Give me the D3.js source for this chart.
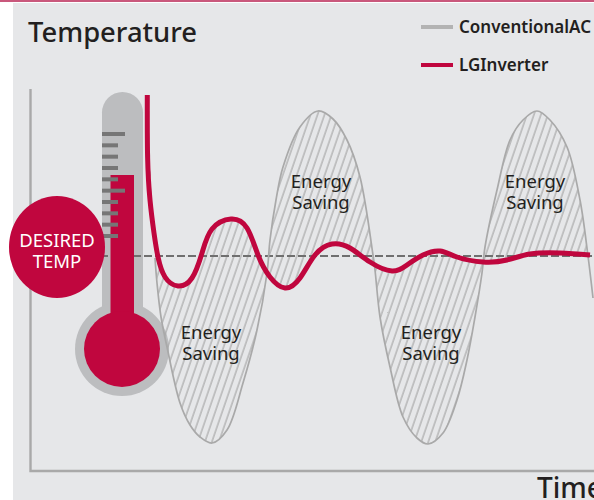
<!DOCTYPE html>
<html>
<head>
<meta charset="utf-8">
<script src="https://cdn.jsdelivr.net/npm/d3@7"></script>
<style>
  html, body { margin: 0; padding: 0; background: #fff; overflow: hidden; }
  text { font-family: "Noto Sans", sans-serif; fill: #231f20; }
</style>
</head>
<body>
<svg width="594" height="500"></svg>
<script>
// DATA - time on x, offset from the desired temperature on y
const conventionalTime = [125,127,131,137,150,160,170,182,197,213,227,237,240,246,253,270,288,303,317,330,343,345,350,360,373,387,398,413,427,437,445,452,455,467,480,493,507,520,537,550,558,563];
const conventionalTemp = [-2,-27,-61,-91,-147,-169,-181,-187,-174,-127,-74,-17,16,56,89,129,145,137,116,79,1,-14,-61,-111,-161,-182,-188,-177,-144,-104,-61,-17,9,66,116,136,145,136,109,56,0,-42];
const inverterTime = [117.3,117.6,120,124,128,135,148,162,172,182,201,217,228,240,255,270,285,302,320,340,362,377,393,410,427,453,477,500,530,560];
const inverterTemp = [161,99,56,23,-1,-21,-30,-22,3,27,37,28,1,-21,-32,-22,1,12,8,-6,-15,-9,1,5,-1,-6,-4,2,3,1];
const legendNames = ['ConventionalAC', 'LGInverter'];
const savingTimes = [181,291,401,505];
const savingLevels = [-83,68,-83,68];

const red = '#c0063e';
const grey = '#a9a9a9';
const thermoGrey = '#bcbdbf';

const svg = d3.select('svg');

const xScale = d3.scaleLinear().domain([0,560]).range([30,590]);
const yScale = d3.scaleLinear().domain([-200,200]).range([456,56]);

// background
svg.append('rect').attr('width',594).attr('height',500).attr('fill','#fff');
svg.append('rect').attr('x',13).attr('y',3).attr('width',581).attr('height',497).attr('fill','#e6e7e9');
svg.append('rect').attr('width',594).attr('height',2).attr('fill','#c9587c');

// hatch pattern
const pat = svg.append('defs').append('pattern')
    .attr('id','hatch')
    .attr('patternUnits','userSpaceOnUse')
    .attr('width',6.6).attr('height',6.6)
    .attr('patternTransform','rotate(19)');
pat.append('line').attr('x1',1).attr('x2',1).attr('y1',0).attr('y2',6.6)
    .attr('stroke','#a2a2a2').attr('stroke-width',1.1);

const conv = conventionalTime.map((t,i)=>[t,conventionalTemp[i]]);
const inv = inverterTime.map((t,i)=>[t,inverterTemp[i]]);

const convLine = d3.line()
    .x(d=>xScale(d[0]))
    .y(d=>yScale(d[1]))
    .curve(d3.curveCatmullRom.alpha(0.5));

const invLine = d3.line()
    .x(d=>xScale(d[0]))
    .y(d=>yScale(d[1]))
    .curve(d3.curveNatural);

// axes
const axisPath = d3.path();
axisPath.moveTo(30.5,89);
axisPath.lineTo(30.5,471);
axisPath.lineTo(594,471);
svg.append('path').attr('d',axisPath.toString())
    .attr('fill','none').attr('stroke',grey).attr('stroke-width',2.4);

// thermometer tube
const tube = svg.append('g');
tube.append('rect').attr('x',102).attr('y',92).attr('width',41).attr('height',240)
    .attr('rx',20.5).attr('fill',thermoGrey);
tube.append('rect').attr('x',102).attr('y',120).attr('width',41).attr('height',210).attr('fill',thermoGrey);
tube.append('circle').attr('cx',122).attr('cy',349).attr('r',47).attr('fill',thermoGrey);

// hatched area between the two curves
const hatchConv = conv.slice(0,-1);
const invBack = inv.slice().reverse();
svg.append('path')
    .attr('d',convLine(hatchConv)+'L'+invLine(invBack).slice(1)+'Z')
    .attr('fill','url(#hatch)');

// desired temp line
svg.append('line')
    .attr('x1',100).attr('x2',594)
    .attr('y1',yScale(0)).attr('y2',yScale(0))
    .attr('stroke','#6f6f6f').attr('stroke-width',1.8).attr('stroke-dasharray','8 3');

// column and bulb
svg.append('rect').attr('x',110.5).attr('y',175).attr('width',23.5).attr('height',170).attr('fill',red);
svg.append('circle').attr('cx',122).attr('cy',349).attr('r',38).attr('fill',red);

// ticks, every fifth is longer
const tickY = d3.scaleLinear().domain([0,9]).range([134,236]);
svg.selectAll('.tick').data(d3.range(10)).enter().append('rect')
    .attr('class','tick')
    .attr('x',102)
    .attr('y',d=>tickY(d)-2)
    .attr('width',d=>d%5==0 ? 23 : 16)
    .attr('height',4)
    .attr('fill','#767676');

// curves
svg.append('path').attr('d',convLine(conv))
    .attr('fill','none').attr('stroke',grey).attr('stroke-width',1.7);
svg.append('path').attr('d',invLine(inv))
    .attr('fill','none').attr('stroke',red).attr('stroke-width',5);

// desired temp badge
svg.append('ellipse').attr('cx',57).attr('cy',247).attr('rx',48).attr('ry',51).attr('fill',red);
svg.selectAll('.badge').data(['DESIRED','TEMP']).enter().append('text')
    .attr('class','badge')
    .attr('x',57)
    .attr('y',(d,i)=>247+i*21)
    .attr('text-anchor','middle')
    .attr('font-size',18.5)
    .style('fill','#fff')
    .text(d=>d);

// energy saving labels
savingTimes.forEach((t,i)=>{
    const lab = svg.append('text')
        .attr('text-anchor','middle')
        .attr('font-size',18.5);
    lab.append('tspan').attr('x',xScale(t)).attr('y',yScale(savingLevels[i])).text('Energy');
    lab.append('tspan').attr('x',xScale(t)).attr('y',yScale(savingLevels[i])+20.5).text('Saving');
});

// titles
svg.append('text').attr('x',28).attr('y',42).attr('font-size',27.4).attr('font-weight',500).text('Temperature');
svg.append('text').attr('x',537).attr('y',498).attr('font-size',28).attr('font-weight',500).text('Time');

// legend
legendNames.forEach((name,i)=>{
    const y = 27 + i*38;
    svg.append('line').attr('x1',421).attr('x2',453).attr('y1',y).attr('y2',y)
        .attr('stroke',i==0 ? '#b3b3b3' : red).attr('stroke-width',4);
    svg.append('text').attr('x',459).attr('y',y+5.5).attr('font-size',17)
        .attr('font-weight',600).text(name);
});
</script>
</body>
</html>
